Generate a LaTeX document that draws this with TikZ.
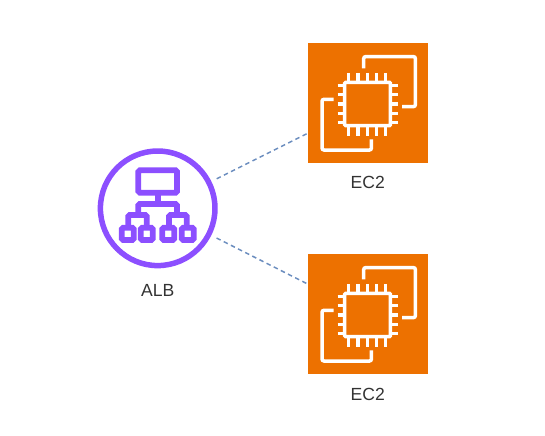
\documentclass[tikz,border=0pt]{standalone}
\usepackage{fontspec}
\setmainfont{Liberation Sans}
\usepackage{xcolor}
\usetikzlibrary{calc,positioning}
\definecolor{albpurple}{HTML}{8C4FFF}
\definecolor{ec2orange}{HTML}{ED7100}
\definecolor{linkblue}{HTML}{6C8EBF}
\definecolor{labelgray}{HTML}{333333}
\tikzset{
	albnode/.style={circle,draw=albpurple,line width=0.11cm,minimum size=2.292cm,inner sep=0pt,outer sep=0.174cm},
	ec2node/.style={rectangle,fill=ec2orange,minimum size=2.4cm,inner sep=0pt,outer sep=0pt},
	caption/.style={text=labelgray,font=\fontsize{10pt}{12pt}\selectfont,inner sep=0pt},
	link/.style={draw=linkblue,line width=0.03cm,dash pattern=on 0.09cm off 0.07cm},
	albline/.style={draw=albpurple,line width=0.115cm,rounded corners=0.03cm},
	chipline/.style={draw=white,line width=0.07cm},
	ec2chip/.pic={
		\draw[chipline,rounded corners=0.04cm] (56,25) -- (56,13.3) -- (107.7,13.3) -- (107.7,63.3) -- (94.3,63.3);
		\draw[chipline,rounded corners=0.04cm] (26,56) -- (14.3,56) -- (14.3,106.7) -- (63.7,106.7) -- (63.7,96);
		\draw[chipline,rounded corners=0.02cm] (37,39) rectangle (82.7,82.3);
		\foreach \p in {41,50.3,59.7,69,78} {
			\draw[chipline] (\p,29.5) -- (\p,39);
			\draw[chipline] (\p,82.3) -- (\p,92.3);
			\draw[chipline] (30,\p+1) -- (37,\p+1);
			\draw[chipline] (82.7,\p+1) -- (90,\p+1);
		}
	}
}
\begin{document}
\begin{tikzpicture}[x=0.02cm,y=-0.02cm]
	\useasboundingbox (0,0) rectangle (545,436);
	\node[albnode] (alb) at (157.7,208.3) {};
	\node[ec2node] (ec2a) at (367.7,103.3) {};
	\node[ec2node] (ec2b) at (367.7,314.3) {};
	\node[caption] (alblabel) at (157.7,290.5) {ALB};
	\node[caption] (ec2alabel) at (367.7,182.7) {EC2};
	\node[caption] (ec2blabel) at (367.7,394) {EC2};
	\draw[link] (alb) -- (ec2a);
	\draw[link] (alb) -- (ec2b);
	% load balancer icon
	\draw[albline] (138.3,170.3) rectangle (177,192.7);
	\draw[albline] (157.7,192.7) -- (157.7,204);
	\draw[albline] (138.3,215) -- (138.3,204) -- (177,204) -- (177,215);
	\draw[albline] (128.3,227) -- (128.3,215) -- (146.7,215) -- (146.7,227);
	\draw[albline] (169,227) -- (169,215) -- (186.7,215) -- (186.7,227);
	\foreach \x in {121.7,140.7,162.3,181.7}
		\draw[albline] (\x,227.7) rectangle (\x+12,240);
	% chip icons
	\pic at (ec2a.north west) {ec2chip};
	\pic at (ec2b.north west) {ec2chip};
\end{tikzpicture}
\end{document}
